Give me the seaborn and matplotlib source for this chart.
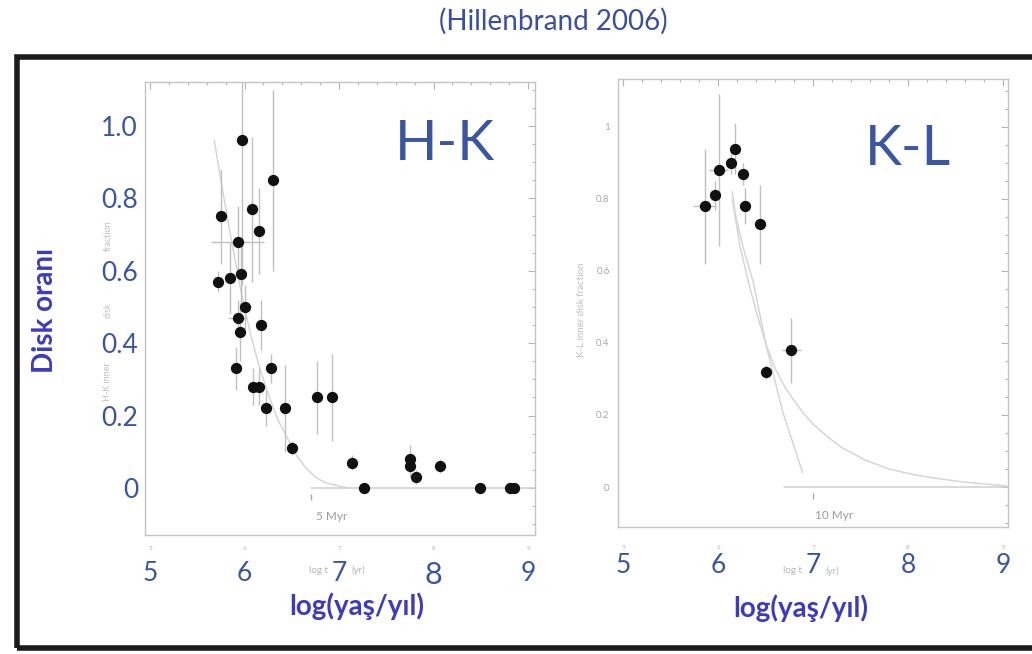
import matplotlib
matplotlib.use("Agg")
import matplotlib.pyplot as plt
import matplotlib.transforms as mtransforms
from matplotlib.patches import Rectangle
from matplotlib.ticker import MultipleLocator
import seaborn as sns
import pandas as pd

# ---------------- data ----------------
hk_x = [5.97, 6.30, 6.08, 5.75, 6.15, 5.93, 5.72, 5.85, 5.96, 6.01, 5.93, 6.17, 5.95, 5.91, 6.28, 6.09,
        6.15, 6.23, 6.43, 6.77, 6.93, 6.50, 7.14, 7.26, 7.75, 7.75, 7.81, 8.07, 8.49, 8.81, 8.85]
hk_y = [0.96, 0.85, 0.77, 0.75, 0.71, 0.68, 0.57, 0.58, 0.59, 0.50, 0.47, 0.45, 0.43, 0.33, 0.33, 0.28,
        0.28, 0.22, 0.22, 0.25, 0.25, 0.11, 0.07, 0.00, 0.08, 0.06, 0.03, 0.06, 0.00, 0.00, 0.00]
hk_yerr = [0.40, 0.25, 0.20, 0.13, 0.12, 0.10, 0.03, 0.10, 0.08, 0.06, 0.05, 0.07, 0.08, 0.06, 0.04, 0.05,
           0.05, 0.05, 0.12, 0.10, 0.12, 0.02, 0.02, 0.00, 0.04, 0.03, 0.02, 0.02, 0.00, 0.00, 0.00]
hk_xerr = [0.00, 0.05, 0.00, 0.05, 0.00, 0.28, 0.03, 0.05, 0.05, 0.05, 0.10, 0.00, 0.00, 0.00, 0.00, 0.05,
           0.05, 0.00, 0.00, 0.00, 0.00, 0.00, 0.00, 0.00, 0.00, 0.00, 0.00, 0.00, 0.00, 0.00, 0.00]

kl_x = [6.18, 6.14, 6.01, 6.26, 5.97, 5.86, 6.28, 6.44, 6.77, 6.51]
kl_y = [0.94, 0.90, 0.88, 0.87, 0.81, 0.78, 0.78, 0.73, 0.38, 0.32]
kl_yerr = [0.07, 0.03, 0.21, 0.03, 0.04, 0.16, 0.05, 0.11, 0.09, 0.02]
kl_xerr = [0.00, 0.05, 0.10, 0.03, 0.05, 0.12, 0.00, 0.00, 0.10, 0.00]

hk_fit_x = [5.68, 5.75, 5.85, 5.95, 6.05, 6.15, 6.25, 6.35, 6.45, 6.55, 6.65, 6.75, 6.85, 7.00, 7.10]
hk_fit_y = [0.96, 0.85, 0.70, 0.56, 0.44, 0.34, 0.26, 0.19, 0.14, 0.09, 0.055, 0.03, 0.015, 0.005, 0.0]

kl_fit1_x = [6.15, 6.18, 6.27, 6.37, 6.51, 6.68, 6.89]
kl_fit1_y = [0.82, 0.76, 0.66, 0.57, 0.39, 0.21, 0.04]
kl_fit2_x = [6.15, 6.23, 6.32, 6.41, 6.50, 6.60, 6.70, 6.80, 6.90, 7.00, 7.15, 7.30, 7.55, 7.80,
             8.05, 8.30, 8.58, 9.04]
kl_fit2_y = [0.80, 0.67, 0.57, 0.48, 0.40, 0.33, 0.28, 0.24, 0.205, 0.175, 0.14, 0.11, 0.075, 0.05,
             0.035, 0.024, 0.014, 0.003]

hk_zero_x = [6.70, 9.07]
kl_zero_x = [6.69, 9.05]
zero_y = [0.0, 0.0]

x_ticks = [5, 6, 7, 8, 9]
x_ticklabels = ["5", "6", "7", "8", "9"]
y_ticks = [0, 0.2, 0.4, 0.6, 0.8, 1.0]
hk_yticklabels = ["0", "0.2", "0.4", "0.6", "0.8", "1.0"]
kl_yticklabels = ["0", "0.2", "0.4", "0.6", "0.8", "1"]

title_text = "(Hillenbrand 2006)"
ylabel_text = "Disk oranı"
xlabel_text = "log(yaş/yıl)"
panel_names = ["H-K", "K-L"]
hk_orig_ylabel_parts = ["H-K inner", "disk", "fraction"]
kl_orig_ylabel = "K-L inner disk fraction"
orig_xlabel_parts = ["log t", "(yr)"]
myr_labels = ["5 Myr", "10 Myr"]
myr_pos = [6.70, 7.00]

# ---------------- style ----------------
sns.set_theme(style="white")
plt.rcParams["font.family"] = ["Lato", "DejaVu Sans"]

BLUE = "#3A55A4"
VIOLET = "#3B3BC2"
GRID_GRAY = "#c4c4c4"
ERR_GRAY = "#c0c0c0"
FIT_GRAY = "#d6d6d6"

fig = plt.figure(figsize=(10.32, 6.54), dpi=100)
W, H = 1032, 654


def fig_rect(x0, y0, x1, y1):
    return [x0 / W, 1 - y1 / H, (x1 - x0) / W, (y1 - y0) / H]


ax1 = fig.add_axes(fig_rect(145, 82, 535, 535))
ax2 = fig.add_axes(fig_rect(618, 79, 1008, 527))

panels = [
    (ax1, hk_x, hk_y, hk_xerr, hk_yerr, (4.947, 9.074), (-0.13, 1.1215)),
    (ax2, kl_x, kl_y, kl_xerr, kl_yerr, (4.947, 9.053), (-0.111, 1.133)),
]

for ax, xs, ys, xe, ye, xl, yl in panels:
    ax.set_xlim(*xl)
    ax.set_ylim(*yl)
    ax.errorbar(xs, ys, yerr=ye, xerr=xe, fmt="none", ecolor=ERR_GRAY,
                elinewidth=1.0, capsize=0, zorder=2)
    df = pd.DataFrame({"x": xs, "y": ys})
    sns.scatterplot(data=df, x="x", y="y", ax=ax, color="#111111", s=66,
                    linewidth=0, zorder=4, legend=False)
    for sp in ax.spines.values():
        sp.set_color(GRID_GRAY)
        sp.set_linewidth(1.0)
    ax.xaxis.set_minor_locator(MultipleLocator(0.2))
    ax.yaxis.set_minor_locator(MultipleLocator(0.05))
    ax.tick_params(which="both", direction="in", top=True, right=True,
                   color="#b5b5b5", width=0.8)
    ax.tick_params(which="major", length=5)
    ax.tick_params(which="minor", length=2.5)
    ax.set_xlabel("")
    ax.set_ylabel("")
    ax.set_facecolor("white")

# fit curves and zero lines
sns.lineplot(x=hk_fit_x, y=hk_fit_y, ax=ax1, color=FIT_GRAY, lw=1.1, sort=False,
             estimator=None, zorder=1)
sns.lineplot(x=hk_zero_x, y=zero_y, ax=ax1, color="#d0d0d0", lw=1.1, sort=False,
             estimator=None, zorder=1)
sns.lineplot(x=kl_fit1_x, y=kl_fit1_y, ax=ax2, color=FIT_GRAY, lw=1.1, sort=False,
             estimator=None, zorder=1)
sns.lineplot(x=kl_fit2_x, y=kl_fit2_y, ax=ax2, color=FIT_GRAY, lw=1.1, sort=False,
             estimator=None, zorder=1)
sns.lineplot(x=kl_zero_x, y=zero_y, ax=ax2, color="#d0d0d0", lw=1.1, sort=False,
             estimator=None, zorder=1)

# Myr markers
for ax, pos, lab in zip([ax1, ax2], myr_pos, myr_labels):
    ax.plot([pos], [-0.024], marker="|", color="#aaaaaa", ms=4, mew=1)
    ax.text(pos + 0.22, -0.078, lab, ha="center", va="center", fontsize=8.5,
            color="#9a9a9a")

# left: blue y tick labels (overlay), right: original small gray
ax1.set_yticks(y_ticks)
ax1.set_yticklabels(hk_yticklabels, fontsize=19, color=BLUE)
ax1.tick_params(axis="y", which="major", pad=5)
ax2.set_yticks(y_ticks)
ax2.set_yticklabels(kl_yticklabels, fontsize=7, color="#a8a8a8")
ax2.tick_params(axis="y", which="major", pad=6)

for ax in (ax1, ax2):
    ax.set_xticks(x_ticks)
    ax.set_xticklabels(x_ticklabels, fontsize=19, color=BLUE)
    ax.tick_params(axis="x", which="major", pad=19)

ax1.get_xticklabels()[3].set_fontsize(22)

# original tiny gray x tick labels and x labels (split around the blue "7")
for ax, ty, ly in [(ax1, -0.03, -0.078), (ax2, -0.045, -0.098)]:
    tr = mtransforms.blended_transform_factory(ax.transData, ax.transAxes)
    for t in x_ticks:
        ax.text(t, ty, str(t), transform=tr, ha="center", va="center",
                fontsize=4.5, color="#b0b0b0")
    ax.text(6.88, ly, orig_xlabel_parts[0], transform=tr, ha="right", va="center",
            fontsize=7, color="#b5b5b5", zorder=0)
    ax.text(7.13, ly, orig_xlabel_parts[1], transform=tr, ha="left", va="center",
            fontsize=7, color="#b5b5b5", zorder=0)

# original gray y labels (left one peeks out between the blue tick labels)
for part, yy in zip(hk_orig_ylabel_parts, [382, 310, 236]):
    fig.text(108 / W, 1 - yy / H, part, rotation=90, ha="center", va="center",
             fontsize=6.5, color="#c0c0c0")
fig.text(581 / W, 1 - 310 / H, kl_orig_ylabel, rotation=90, ha="center", va="center",
         fontsize=7, color="#c0c0c0")

# big panel names
ax1.text(0.769, 0.861, panel_names[0], transform=ax1.transAxes, ha="center",
         va="center", fontsize=40, color=BLUE)
ax2.text(0.744, 0.842, panel_names[1], transform=ax2.transAxes, ha="center",
         va="center", fontsize=40, color=BLUE)

# overlay texts
fig.text(553 / W, 1 - 21 / H, title_text, ha="center", va="center", fontsize=20,
         color="#3A4FA0")
fig.text(45 / W, 1 - 310 / H, ylabel_text, rotation=90, ha="center", va="center",
         fontsize=20, fontweight="bold", color=VIOLET)
fig.text(357 / W, 1 - 606 / H, xlabel_text, ha="center", va="center", fontsize=20,
         fontweight="bold", color=VIOLET)
fig.text(801 / W, 1 - 608 / H, xlabel_text, ha="center", va="center", fontsize=20,
         fontweight="bold", color=VIOLET)

# outer black frame
fig.patches.append(Rectangle((17 / W, 1 - 648 / H), 1.2, (648 - 57) / H,
                             transform=fig.transFigure, fill=False, lw=4,
                             edgecolor="#1c1c1c", clip_on=False, zorder=10))

fig.savefig("out.png", dpi=100)
